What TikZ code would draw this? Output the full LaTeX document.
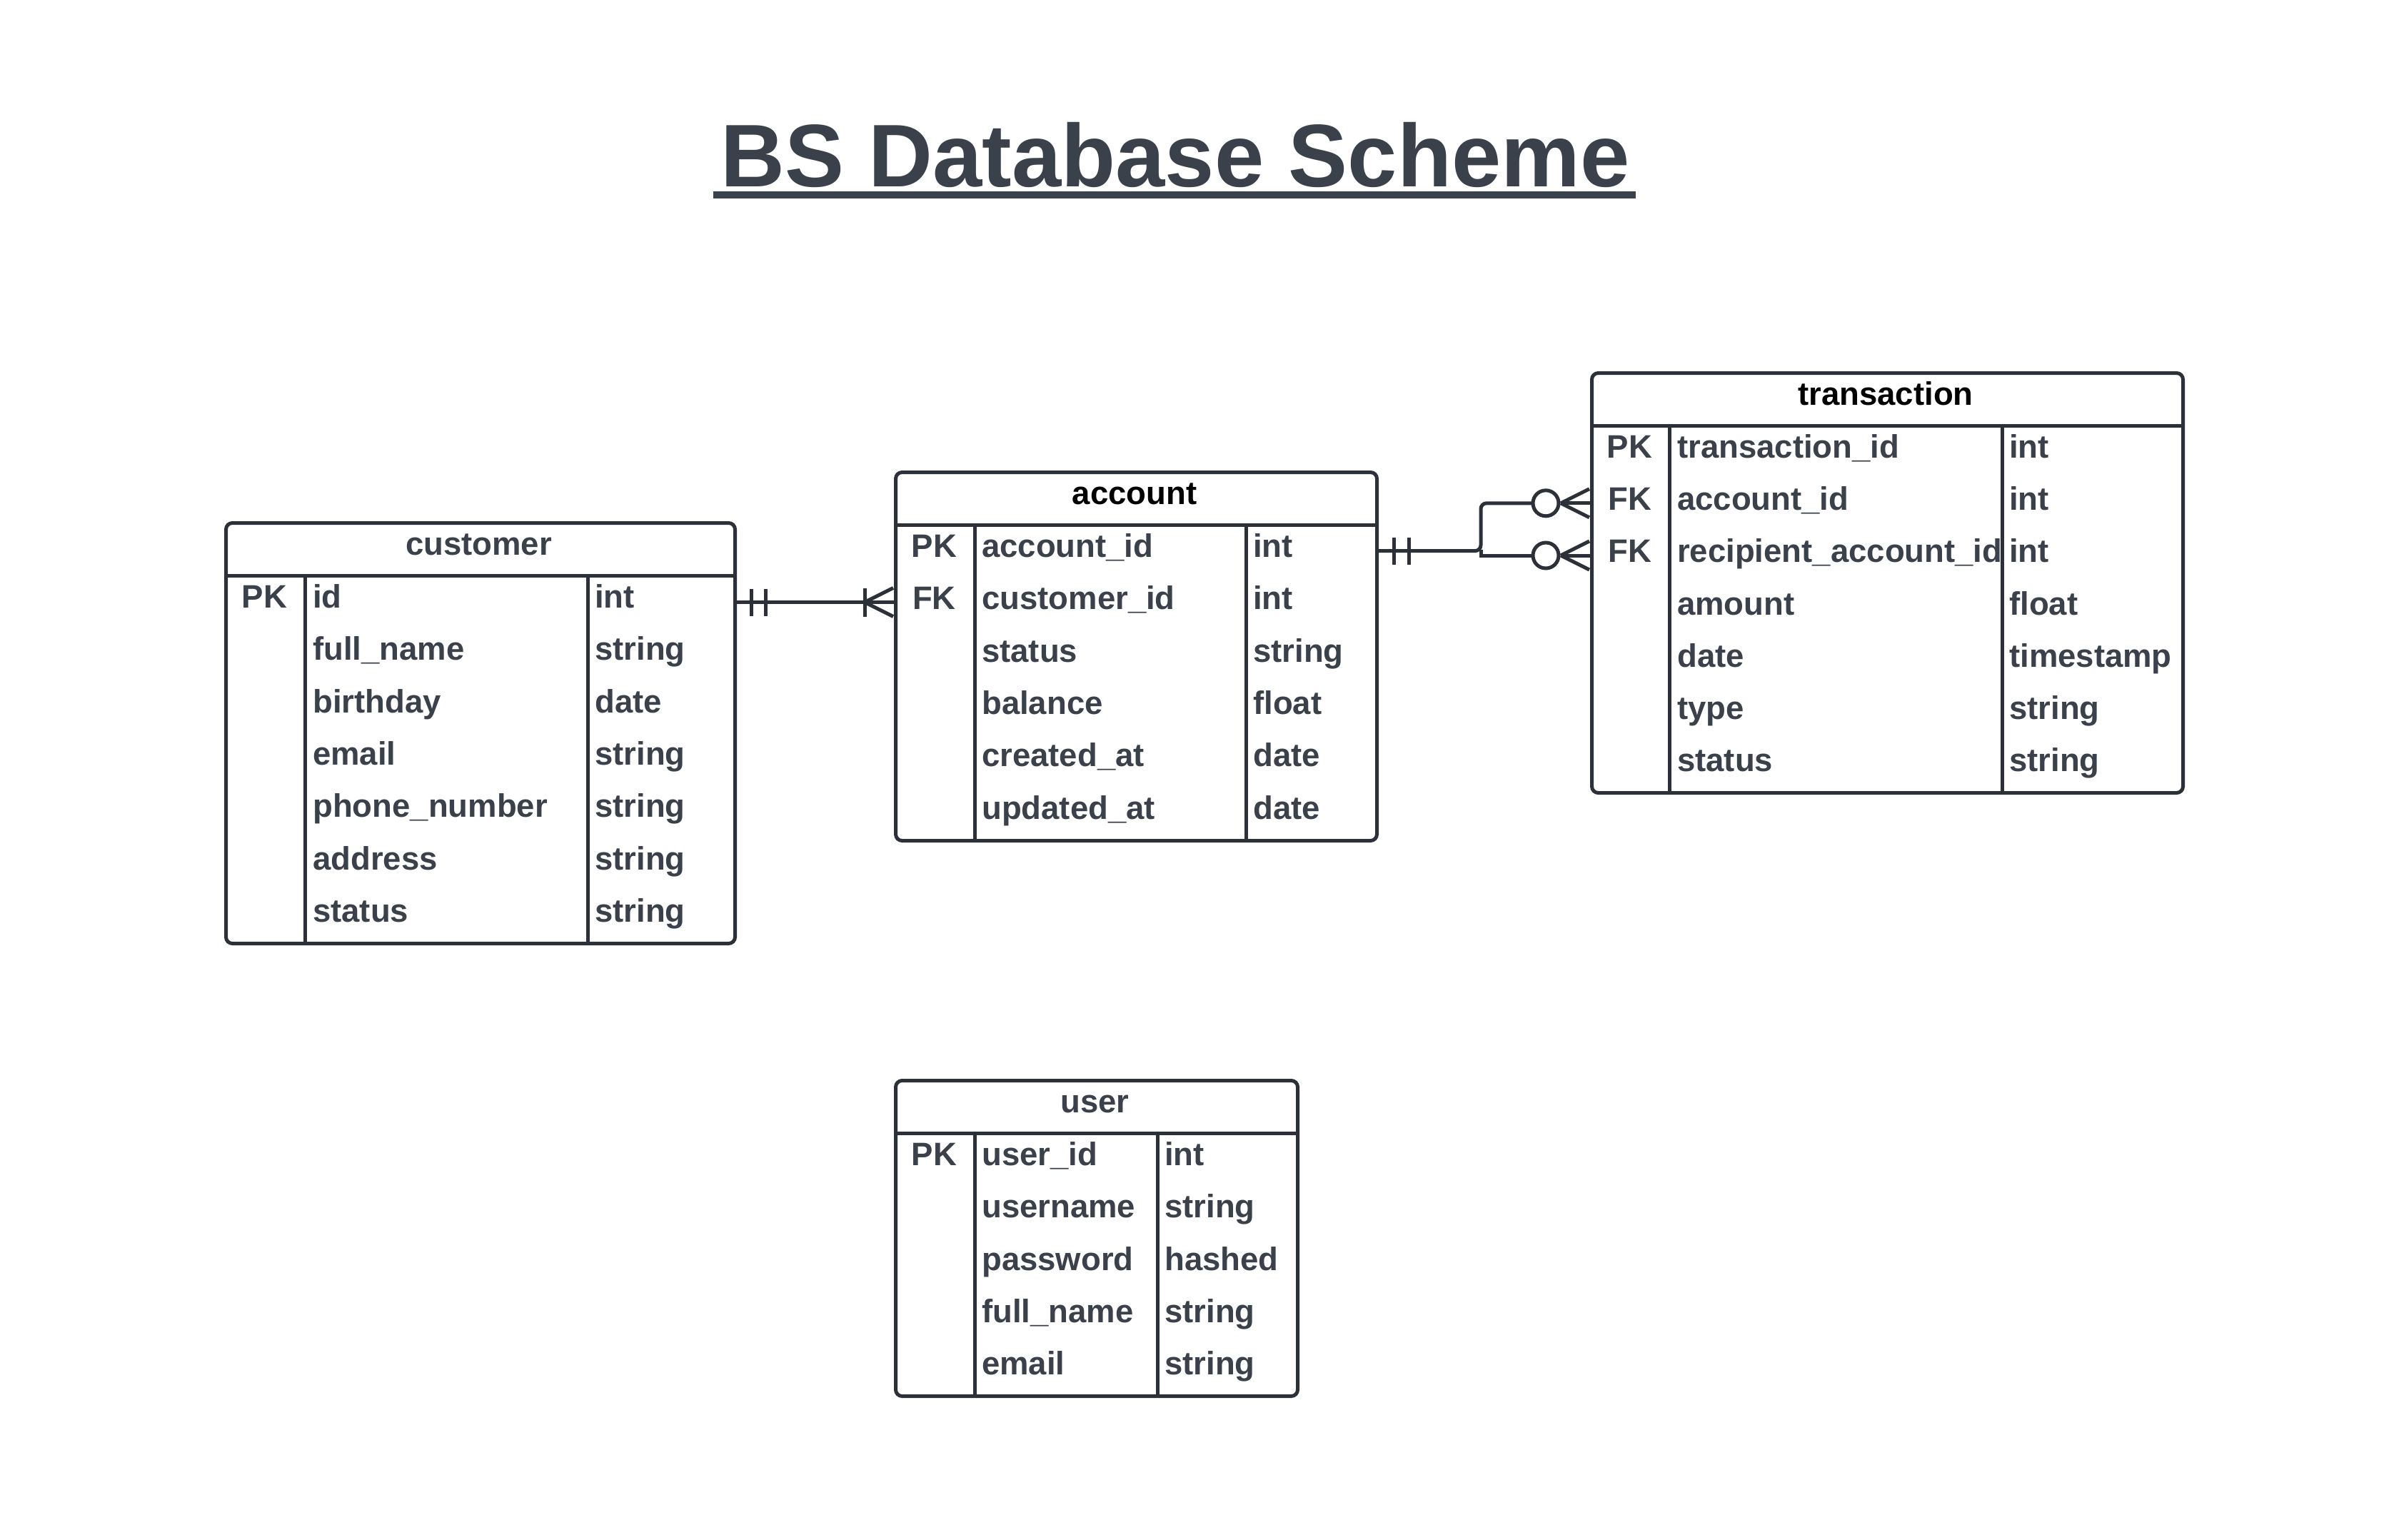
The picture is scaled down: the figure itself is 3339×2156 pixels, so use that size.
\documentclass[tikz,border=0pt]{standalone}
\usepackage{fontspec}
\setmainfont{Liberation Sans}
\usetikzlibrary{calc}
\definecolor{textc}{HTML}{3A414A}
\definecolor{linec}{HTML}{2C3038}
\newcommand{\fieldfont}{\fontsize{45.5}{54}\selectfont\bfseries}
\newcommand{\titlefont}{\fontsize{124.5}{140}\selectfont\bfseries}
\begin{document}
\begin{tikzpicture}[x=1pt,y=-1pt,
  tbl/.style={draw=linec, line width=5pt, rounded corners=9pt, fill=white, inner sep=0pt, anchor=north west},
  sepline/.style={draw=linec, line width=5pt},
  ftext/.style={font=\fieldfont, text=textc, inner sep=0pt, anchor=base west},
  ktext/.style={font=\fieldfont, text=textc, inner sep=0pt, anchor=base},
  htext/.style={font=\fieldfont, inner sep=0pt, anchor=base},
  conn/.style={draw=linec, line width=5pt},
]
\useasboundingbox[fill=white] (0,0) rectangle (3339,2156);

% title
\node[font=\titlefont, text=textc, inner sep=0pt, anchor=base] (title) at (1646,261) {BS Database Scheme};
\draw[textc, line width=10pt] ($(title.base west)+(-10,12)$) -- ($(title.base east)+(8,12)$);

% ---------- customer ----------
\node[tbl, minimum width=713pt, minimum height=589pt] (customer) at (314,730) {};
\draw[sepline] (314,806) -- (1027,806);
\draw[sepline] (427,806) -- (427,1319);
\draw[sepline] (823,806) -- (823,1319);
\node[htext, text=textc] (customer-h) at (670.5,777.5) {customer};
\node[ktext] (customer-k0) at (370.5,851.5) {PK};
\foreach \nm/\ty [count=\i from 0] in {id/int,full\_name/string,birthday/date,email/string,phone\_number/string,address/string,status/string}{
  \node[ftext] (customer-n\i) at (438,{851.5+\i*73.3}) {\nm};
  \node[ftext] (customer-t\i) at (833,{851.5+\i*73.3}) {\ty};
}

% ---------- account ----------
\node[tbl, minimum width=674pt, minimum height=516pt] (account) at (1252,659) {};
\draw[sepline] (1252,735) -- (1926,735);
\draw[sepline] (1365,735) -- (1365,1175);
\draw[sepline] (1745,735) -- (1745,1175);
\node[htext, text=black] (account-h) at (1589,706.5) {account};
\node[ktext] (account-k0) at (1308.5,780.5) {PK};
\node[ktext] (account-k1) at (1308.5,853.8) {FK};
\foreach \nm/\ty [count=\i from 0] in {account\_id/int,customer\_id/int,status/string,balance/float,created\_at/date,updated\_at/date}{
  \node[ftext] (account-n\i) at (1375,{780.5+\i*73.3}) {\nm};
  \node[ftext] (account-t\i) at (1755,{780.5+\i*73.3}) {\ty};
}

% ---------- transaction ----------
\node[tbl, minimum width=828pt, minimum height=588pt] (transaction) at (2227,520) {};
\draw[sepline] (2227,596) -- (3055,596);
\draw[sepline] (2338,596) -- (2338,1108);
\draw[sepline] (2804,596) -- (2804,1108);
\node[htext, text=black] (transaction-h) at (2641,567.5) {transaction};
\node[ktext] (transaction-k0) at (2282.5,641.5) {PK};
\node[ktext] (transaction-k1) at (2282.5,714.7) {FK};
\node[ktext] (transaction-k2) at (2282.5,787.9) {FK};
\foreach \nm/\ty [count=\i from 0] in {transaction\_id/int,account\_id/int,recipient\_account\_id/int,amount/float,date/timestamp,type/string,status/string}{
  \node[ftext] (transaction-n\i) at (2349,{641.5+\i*73.2}) {\nm};
  \node[ftext] (transaction-t\i) at (2814,{641.5+\i*73.2}) {\ty};
}

% ---------- user ----------
\node[tbl, minimum width=563pt, minimum height=442pt] (user) at (1252,1511) {};
\draw[sepline] (1252,1587) -- (1815,1587);
\draw[sepline] (1365,1587) -- (1365,1953);
\draw[sepline] (1621,1587) -- (1621,1953);
\node[htext, text=textc] (user-h) at (1533.5,1558.5) {user};
\node[ktext] (user-k0) at (1308.5,1632.5) {PK};
\foreach \nm/\ty [count=\i from 0] in {user\_id/int,username/string,password/hashed,full\_name/string,email/string}{
  \node[ftext] (user-n\i) at (1375,{1632.5+\i*73.3}) {\nm};
  \node[ftext] (user-t\i) at (1631,{1632.5+\i*73.3}) {\ty};
}

% ---------- connector customer -> account ----------
\coordinate (r1) at (0,843.5);
\coordinate (ce) at (customer.east |- r1);
\coordinate (aw) at (account.west |- r1);
\draw[conn] (ce) -- (aw);
\draw[conn] ($(ce)+(20,-19)$) -- ($(ce)+(20,19)$);
\draw[conn] ($(ce)+(40,-19)$) -- ($(ce)+(40,19)$);
\draw[conn] ($(aw)+(-41,-20)$) -- ($(aw)+(-41,20)$);
\draw[conn] ($(aw)+(-41,0)$) -- ($(aw)+(-1,-20)$);
\draw[conn] ($(aw)+(-41,0)$) -- ($(aw)+(-1,20)$);

% ---------- connector account -> transaction ----------
\coordinate (r2) at (0,771.6);
\coordinate (r3) at (0,704.8);
\coordinate (r4) at (0,778);
\coordinate (ae) at (account.east |- r2);
\coordinate (jn) at (2074,771.6);
\coordinate (tw1) at (transaction.west |- r3);
\coordinate (tw2) at (transaction.west |- r4);
\draw[conn, rounded corners=8pt] (ae) -- (jn) -- (jn |- r3) -- ($(tw1)+(-62,0)$);
\draw[conn] ($(jn)+(0,-2)$) -- (jn |- r4) -- ($(tw2)+(-62,0)$);
\draw[conn] ($(ae)+(21,-19)$) -- ($(ae)+(21,19)$);
\draw[conn] ($(ae)+(42,-19)$) -- ($(ae)+(42,19)$);
\foreach \t in {tw1,tw2}{
  \draw[conn] ($(\t)+(-41,0)$) -- ($(\t)+(-1,-20)$);
  \draw[conn] ($(\t)+(-41,0)$) -- (\t);
  \draw[conn] ($(\t)+(-41,0)$) -- ($(\t)+(-1,20)$);
  \draw[conn, fill=white] ($(\t)+(-62,0)$) circle (18);
}
\end{tikzpicture}
\end{document}
